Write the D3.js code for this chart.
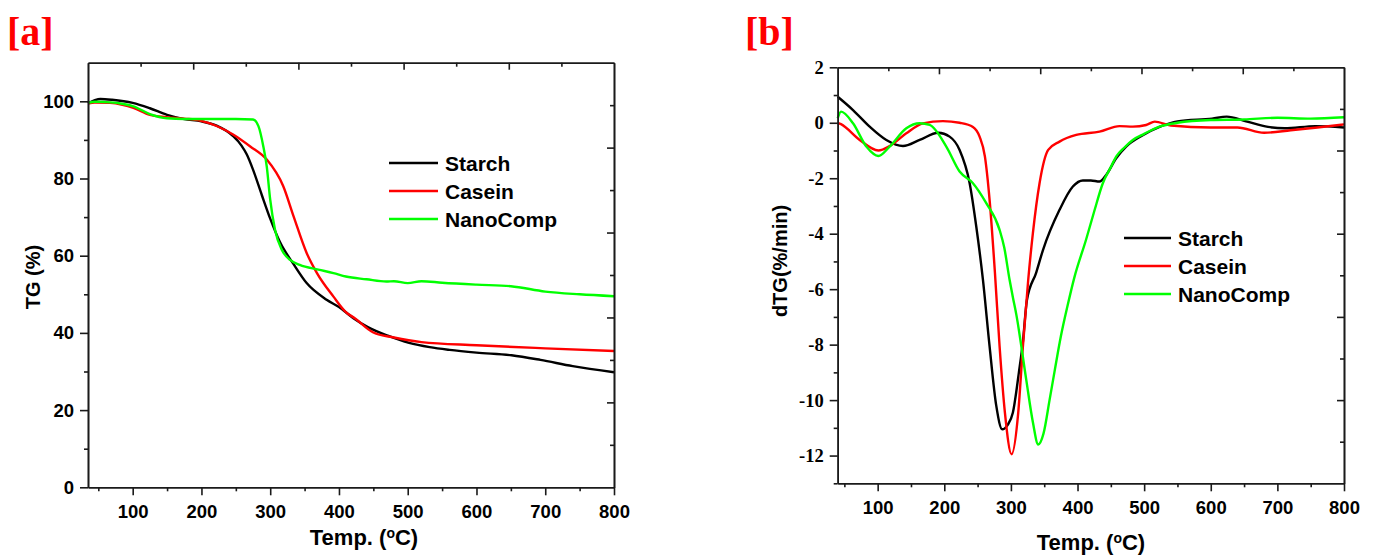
<!DOCTYPE html>
<html>
<head>
<meta charset="utf-8">
<script src="https://cdn.jsdelivr.net/npm/d3@7/dist/d3.min.js"></script>
<style>
  body { margin: 0; background: #fff; }
  text { font-family: "Liberation Sans", Arial, sans-serif; font-weight: bold; }
</style>
</head>
<body>
<div id="chart"></div>
<script>
// ---- data: TG curves (panel a) ----
const seriesNames = ['Starch', 'Casein', 'NanoComp'];
const seriesColors = ['#000000', '#ff0000', '#00ff00'];

const tgStarchT = [35, 45, 53, 70, 100, 125, 150, 175, 200, 222, 246, 258, 266, 275, 288, 300, 314, 334, 353, 382, 400, 421, 442, 472, 502, 532, 561, 600, 651, 693, 740, 800];
const tgStarch = [99.5, 100.3, 100.6, 100.4, 99.6, 98.2, 96.5, 95.4, 94.8, 93.7, 91.0, 88.6, 86.2, 82.3, 75.6, 69.6, 63.6, 57.8, 52.9, 48.6, 46.7, 43.8, 41.5, 39.2, 37.4, 36.3, 35.6, 34.9, 34.2, 33.0, 31.4, 29.8];

const tgCaseinT = [35, 45, 67, 85, 101, 125, 149, 175, 198, 222, 246, 271, 295, 319, 334, 353, 368, 392, 410, 423, 450, 480, 520, 600, 700, 800];
const tgCasein = [99.4, 99.7, 99.6, 99.1, 98.3, 96.5, 95.9, 95.5, 95.0, 93.6, 91.4, 88.3, 84.9, 78.0, 70.2, 60.7, 55.5, 49.4, 45.4, 43.8, 40.1, 38.8, 37.6, 36.8, 36.0, 35.3];

const tgNanoT = [35, 45, 60, 80, 101, 125, 150, 175, 200, 250, 275, 283, 290, 295, 300, 307, 317, 329, 343, 370, 392, 410, 440, 469, 480, 500, 520, 550, 600, 650, 700, 750, 800];
const tgNano = [99.6, 99.9, 99.8, 99.5, 98.7, 96.7, 95.6, 95.4, 95.4, 95.4, 95.3, 93.5, 88.3, 83.1, 74.5, 66.7, 61.5, 58.9, 57.6, 56.4, 55.5, 54.6, 53.9, 53.3, 53.4, 52.9, 53.4, 53.0, 52.5, 52.1, 50.7, 50.0, 49.5];

// ---- data: dTG curves (panel b) ----
const dtgStarchT = [40, 63, 88, 113, 138, 163, 191, 208, 223, 238, 248, 258, 268, 278, 287, 295, 303, 312, 318, 324, 338, 348, 373, 393, 408, 420, 433, 443, 458, 473, 498, 524, 550, 602, 624, 653, 686, 711, 757, 800];
const dtgStarch = [0.94, 0.46, -0.14, -0.62, -0.84, -0.62, -0.36, -0.5, -0.98, -2.17, -3.74, -5.66, -8.06, -10.2, -11.05, -10.9, -10.45, -9.0, -7.9, -6.4, -5.4, -4.6, -3.14, -2.3, -2.08, -2.08, -2.12, -1.88, -1.28, -0.86, -0.45, -0.14, 0.05, 0.15, 0.22, 0.05, -0.15, -0.2, -0.12, -0.17];

const dtgCaseinT = [40, 45, 73, 101, 118, 143, 168, 198, 223, 243, 253, 261, 268, 276, 283, 291, 301, 311, 318, 326, 333, 343, 356, 373, 398, 433, 463, 483, 503, 516, 540, 600, 640, 680, 720, 760, 800];
const dtgCasein = [0.0, -0.05, -0.62, -1.0, -0.84, -0.38, -0.02, 0.06, 0.0, -0.15, -0.5, -1.22, -2.78, -5.4, -8.06, -10.45, -11.95, -10.45, -8.06, -5.66, -3.98, -2.18, -0.98, -0.68, -0.44, -0.32, -0.12, -0.14, -0.08, 0.04, -0.1, -0.17, -0.17, -0.36, -0.27, -0.17, -0.06];

const dtgNanoT = [40, 45, 63, 83, 101, 118, 143, 163, 178, 203, 223, 243, 263, 283, 290, 298, 303, 308, 323, 333, 341, 349, 358, 366, 375, 385, 395, 413, 425, 438, 450, 458, 470, 483, 500, 523, 550, 600, 650, 700, 750, 800];
const dtgNano = [0.16, 0.4, -0.02, -0.86, -1.2, -0.86, -0.2, -0.02, -0.08, -0.86, -1.76, -2.18, -2.9, -3.86, -4.5, -5.66, -6.3, -6.9, -9.26, -10.8, -11.6, -11.2, -10.0, -8.9, -7.7, -6.6, -5.6, -4.2, -3.2, -2.18, -1.6, -1.22, -0.9, -0.62, -0.4, -0.14, 0.0, 0.1, 0.12, 0.18, 0.15, 0.2];

// ---- tick labels ----
const xTicks = [100, 200, 300, 400, 500, 600, 700, 800];
const xMinorTicks = [50, 150, 250, 350, 450, 550, 650, 750];
const tgTicks = [0, 20, 40, 60, 80, 100];
const tgMinorTicks = [10, 30, 50, 70, 90];
const dtgTicks = [-12, -10, -8, -6, -4, -2, 0, 2];
const dtgMinorTicks = [-13, -11, -9, -7, -5, -3, -1, 1];

const svg = d3.select('#chart').append('svg')
  .attr('width', 1374)
  .attr('height', 555);

function toPoints(xs, ys) {
  return xs.map((x, i) => ({ x: x, y: ys[i] }));
}

function drawPanel(cfg) {
  const x = d3.scaleLinear().domain(cfg.xDomain).range(cfg.xRange);
  const y = d3.scaleLinear().domain(cfg.yDomain).range(cfg.yRange);
  const g = svg.append('g');

  // curves
  const line = d3.line()
    .x(d => x(d.x))
    .y(d => y(d.y))
    .curve(d3.curveMonotoneX);

  cfg.series.forEach((s, i) => {
    g.append('path')
      .datum(toPoints(s[0], s[1]))
      .attr('d', line)
      .attr('fill', 'none')
      .attr('stroke', seriesColors[i])
      .attr('stroke-width', 2.4)
      .attr('stroke-linejoin', 'round');
  });

  // bottom axis
  const bottom = g.append('g')
    .attr('transform', `translate(0,${cfg.yRange[0]})`)
    .call(d3.axisBottom(x).tickValues(xTicks).tickSize(8).tickPadding(9.5).tickSizeOuter(0));
  bottom.selectAll('text').style('font-size', '18.5px').attr('fill', '#000');
  g.append('g')
    .attr('transform', `translate(0,${cfg.yRange[0]})`)
    .call(d3.axisBottom(x).tickValues(xMinorTicks).tickSize(4).tickFormat('').tickSizeOuter(0));

  // left axis
  const left = g.append('g')
    .attr('transform', `translate(${cfg.xRange[0]},0)`)
    .call(d3.axisLeft(y).tickValues(cfg.yTicks).tickSize(8).tickPadding(6).tickSizeOuter(0));
  left.selectAll('text')
    .attr('font-family', cfg.yFont)
    .style('font-family', cfg.yFont)
    .style('font-size', '18.5px')
    .attr('fill', '#000')
    .text(d => d < 0 ? '-' + Math.abs(d) : d);
  g.append('g')
    .attr('transform', `translate(${cfg.xRange[0]},0)`)
    .call(d3.axisLeft(y).tickValues(cfg.yMinor).tickSize(4).tickFormat('').tickSizeOuter(0));

  // top and right axes: ten equal divisions, inward ticks
  const xd = d3.scaleLinear().domain([0, 10]).range(cfg.xRange);
  const yd = d3.scaleLinear().domain([0, 10]).range(cfg.yRange);
  const even = [2, 4, 6, 8];
  const odd = [1, 3, 5, 7, 9];
  [[even, -7], [odd, -4]].forEach(([vals, size]) => {
    g.append('g')
      .attr('transform', `translate(0,${cfg.yRange[1]})`)
      .call(d3.axisTop(xd).tickValues(vals).tickSize(size).tickFormat('').tickSizeOuter(0));
    g.append('g')
      .attr('transform', `translate(${cfg.xRange[1]},0)`)
      .call(d3.axisRight(yd).tickValues(vals).tickSize(size).tickFormat('').tickSizeOuter(0));
  });

  g.selectAll('.domain, .tick line').attr('stroke', '#1a1a1a').attr('stroke-width', 1.6);

  // axis titles
  const xt = g.append('text')
    .attr('x', cfg.xTitle[0])
    .attr('y', cfg.xTitle[1])
    .attr('text-anchor', 'middle')
    .style('font-size', '22px');
  xt.append('tspan').text('Temp. (');
  xt.append('tspan').text('o').attr('dy', -7).style('font-size', '14px');
  xt.append('tspan').text('C)').attr('dy', 7);

  g.append('text')
    .attr('transform', `translate(${cfg.yTitle[0]},${cfg.yTitle[1]}) rotate(-90)`)
    .attr('text-anchor', 'middle')
    .style('font-size', '20px')
    .text(cfg.yLabel);

  // panel tag
  g.append('text')
    .attr('x', cfg.tag[0])
    .attr('y', cfg.tag[1])
    .attr('fill', '#ff0000')
    .style('font-family', '"Liberation Serif", "Times New Roman", serif')
    .style('font-size', '40px')
    .text(cfg.tagText);

  // legend
  const lg = g.append('g').attr('transform', `translate(${cfg.legend[0]},${cfg.legend[1]})`);
  seriesNames.forEach((name, i) => {
    lg.append('line')
      .attr('x1', 0).attr('x2', cfg.legendLine)
      .attr('y1', i * 28).attr('y2', i * 28)
      .attr('stroke', seriesColors[i])
      .attr('stroke-width', 2.4);
    lg.append('text')
      .attr('x', cfg.legendLine + 7)
      .attr('y', i * 28 + 7.5)
      .style('font-size', '21px')
      .text(name);
  });
}

drawPanel({
  xDomain: [35, 800], xRange: [88, 614],
  yDomain: [0, 110], yRange: [487.3, 62.7],
  yTicks: tgTicks, yMinor: tgMinorTicks,
  yFont: '"Liberation Sans", Arial, sans-serif',
  series: [[tgStarchT, tgStarch], [tgCaseinT, tgCasein], [tgNanoT, tgNano]],
  xTitle: [364, 545], yTitle: [40, 277], yLabel: 'TG (%)',
  tag: [7, 45], tagText: '[a]',
  legend: [389, 163], legendLine: 49
});

drawPanel({
  xDomain: [40, 800], xRange: [837.7, 1344],
  yDomain: [-13, 2], yRange: [483.3, 67.3],
  yTicks: dtgTicks, yMinor: dtgMinorTicks,
  yFont: '"Liberation Serif", "Times New Roman", serif',
  series: [[dtgStarchT, dtgStarch], [dtgCaseinT, dtgCasein], [dtgNanoT, dtgNano]],
  xTitle: [1091, 550], yTitle: [787, 261], yLabel: 'dTG(%/min)',
  tag: [745, 45], tagText: '[b]',
  legend: [1124, 238], legendLine: 47
});
</script>
</body>
</html>
